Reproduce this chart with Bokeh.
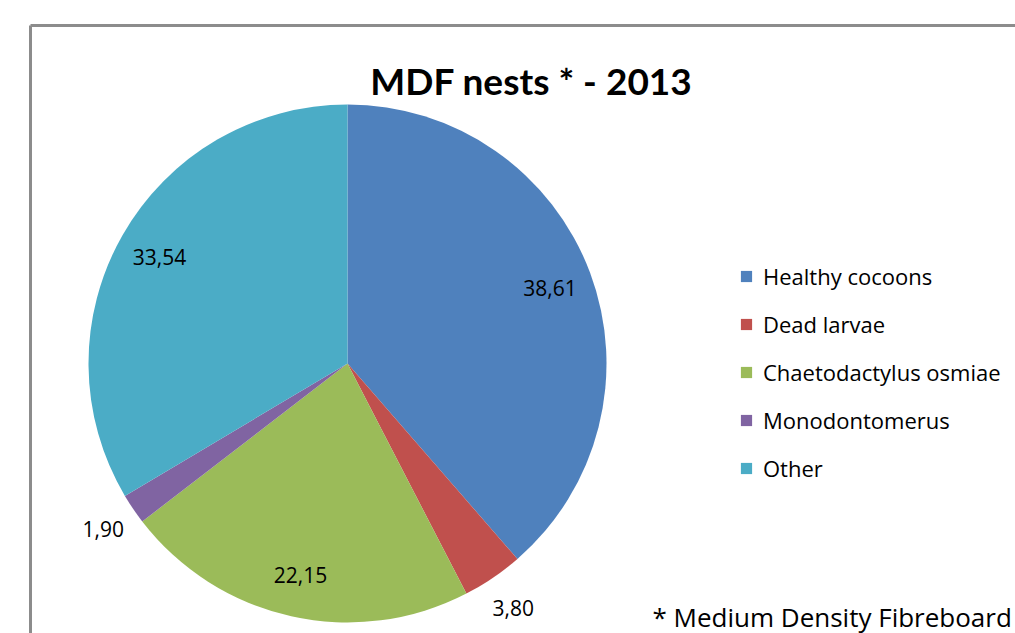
import math
from bokeh.plotting import figure
from bokeh.models import Range1d, Legend, LegendItem, ColumnDataSource
from bokeh.core.properties import value
from bokeh.embed import file_html
from bokeh.resources import INLINE

categories = ["Healthy cocoons", "Dead larvae", "Chaetodactylus osmiae", "Monodontomerus", "Other"]
values = [38.61, 3.80, 22.15, 1.90, 33.54]
labels = ["38,61", "3,80", "22,15", "1,90", "33,54"]
colors = ["#4F81BD", "#C0504D", "#9BBB59", "#8064A2", "#4BACC6"]
title_text = "MDF nests * - 2013"
footnote = "* Medium Density Fibreboard"

W, H = 1015, 633
p = figure(width=W, height=H, output_backend="svg", toolbar_location=None,
           x_range=Range1d(0, W), y_range=Range1d(0, H), min_border=0)
p.axis.visible = False
p.grid.visible = False
p.outline_line_color = None
p.background_fill_color = "white"
p.border_fill_color = "white"

# chart frame (cropped by the window on the right and bottom)
fx, fy = 30, H - 25
p.segment(x0=[fx, fx], y0=[fy, fy], x1=[fx, W + 20], y1=[-20, fy],
          line_color="#8c8c8c", line_width=3)

# pie
cx, cy, r = 347, H - 363, 259
total = sum(values)
starts, ends, mids = [], [], []
cum = 0.0
for v in values:
    a0 = math.pi / 2 - 2 * math.pi * cum / total
    cum += v
    a1 = math.pi / 2 - 2 * math.pi * cum / total
    starts.append(a0)
    ends.append(a1)
    mids.append((a0 + a1) / 2)

src = ColumnDataSource(dict(start=starts, end=ends, color=colors, cat=categories))
wr = p.wedge(x=cx, y=cy, radius=r, start_angle="start", end_angle="end",
             direction="clock", fill_color="color", line_color=None, source=src)

# data labels: inside for big slices, outside for small ones
lx, ly = [], []
for v, m in zip(values, mids):
    f = 1.14 if v / total < 0.05 else 0.835
    lx.append(cx + f * r * math.cos(m))
    ly.append(cy + f * r * math.sin(m))
p.text(x=lx, y=ly, text=labels, text_font=value("Open Sans"), text_font_size="21px",
       text_color="#000000", text_align="center", text_baseline="middle")

# title
p.text(x=[531], y=[H - 80], text=[title_text], text_font=value("Lato"),
       text_font_size="37px", text_font_style="bold", text_color="#000000",
       text_align="center", text_baseline="middle")

# footnote
p.text(x=[652], y=[H - 616], text=[footnote], text_font=value("Open Sans"),
       text_font_size="26px", text_color="#000000", text_align="left",
       text_baseline="middle")

legend = Legend(items=[LegendItem(label=c, renderers=[wr], index=i) for i, c in enumerate(categories)],
                location=(739, H - 483), orientation="vertical",
                glyph_width=14, glyph_height=14, label_text_font="Open Sans",
                label_text_font_size="22px", label_text_color="#000000",
                label_standoff=10, spacing=18, padding=0, margin=0,
                border_line_color=None, background_fill_alpha=0)
p.add_layout(legend, "center")

open("out.html", "w").write(file_html(p, INLINE))
